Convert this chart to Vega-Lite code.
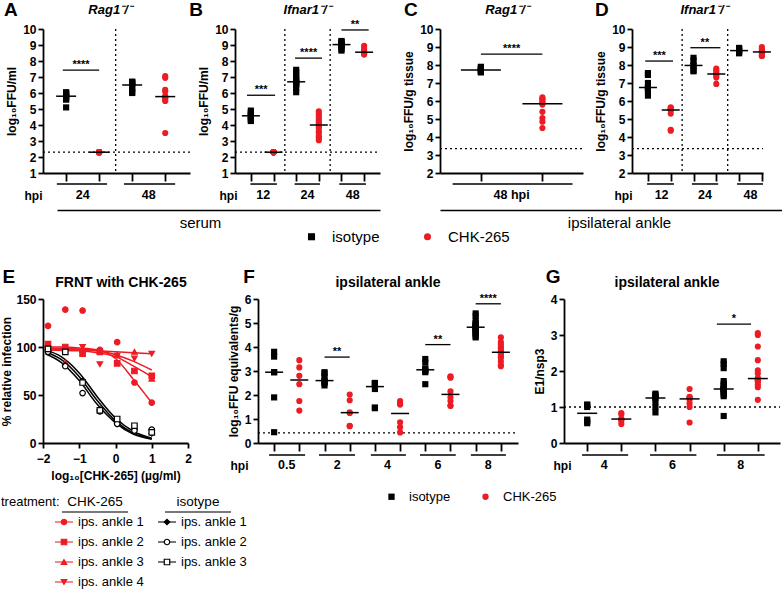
{
"$schema":"https://vega.github.io/schema/vega-lite/v6.json",
"width":782,"height":590,
"autosize":{"type":"none"},
"padding":0,
"background":"#ffffff",
"config":{"font":"Liberation Sans","view":{"stroke":null},
 "axis":{"domainColor":"#000000","domainWidth":1.8,"tickColor":"#000000","tickWidth":1.8,"tickSize":5,"labelFont":"Liberation Sans","labelFontWeight":"bold","labelFontSize":12,"labelColor":"#000000","labelPadding":2,"labelOverlap":false,"labelFlush":false,"titleFont":"Liberation Sans","titleFontWeight":"bold","titleFontSize":12,"titleColor":"#000000","grid":false},
 "legend":{"labelFont":"Liberation Sans","labelColor":"#000000"}},
"datasets":{
"pts":[
{"p":"A","pos":1,"trt":"isotype","v":6.05},{"p":"A","pos":1,"trt":"isotype","v":6.0},{"p":"A","pos":1,"trt":"isotype","v":5.95},{"p":"A","pos":1,"trt":"isotype","v":5.85},{"p":"A","pos":1,"trt":"isotype","v":5.75},{"p":"A","pos":1,"trt":"isotype","v":5.6},{"p":"A","pos":1,"trt":"isotype","v":5.6},{"p":"A","pos":1,"trt":"isotype","v":5.1},
{"p":"A","pos":2,"trt":"CHK-265","v":2.3},{"p":"A","pos":2,"trt":"CHK-265","v":2.3},{"p":"A","pos":2,"trt":"CHK-265","v":2.3},{"p":"A","pos":2,"trt":"CHK-265","v":2.3},{"p":"A","pos":2,"trt":"CHK-265","v":2.3},{"p":"A","pos":2,"trt":"CHK-265","v":2.3},{"p":"A","pos":2,"trt":"CHK-265","v":2.3},{"p":"A","pos":2,"trt":"CHK-265","v":2.3},{"p":"A","pos":2,"trt":"CHK-265","v":2.3},{"p":"A","pos":2,"trt":"CHK-265","v":2.3},
{"p":"A","pos":3,"trt":"isotype","v":6.7},{"p":"A","pos":3,"trt":"isotype","v":6.7},{"p":"A","pos":3,"trt":"isotype","v":6.65},{"p":"A","pos":3,"trt":"isotype","v":6.6},{"p":"A","pos":3,"trt":"isotype","v":6.4},{"p":"A","pos":3,"trt":"isotype","v":6.25},{"p":"A","pos":3,"trt":"isotype","v":6.05},{"p":"A","pos":3,"trt":"isotype","v":6.0},
{"p":"A","pos":4,"trt":"CHK-265","v":7.05},{"p":"A","pos":4,"trt":"CHK-265","v":6.95},{"p":"A","pos":4,"trt":"CHK-265","v":6.2},{"p":"A","pos":4,"trt":"CHK-265","v":6.1},{"p":"A","pos":4,"trt":"CHK-265","v":5.8},{"p":"A","pos":4,"trt":"CHK-265","v":5.75},{"p":"A","pos":4,"trt":"CHK-265","v":5.7},{"p":"A","pos":4,"trt":"CHK-265","v":5.6},{"p":"A","pos":4,"trt":"CHK-265","v":5.5},{"p":"A","pos":4,"trt":"CHK-265","v":3.5},
{"p":"B","pos":1,"trt":"isotype","v":4.9},{"p":"B","pos":1,"trt":"isotype","v":4.8},{"p":"B","pos":1,"trt":"isotype","v":4.7},{"p":"B","pos":1,"trt":"isotype","v":4.6},{"p":"B","pos":1,"trt":"isotype","v":4.55},{"p":"B","pos":1,"trt":"isotype","v":4.4},{"p":"B","pos":1,"trt":"isotype","v":4.3},{"p":"B","pos":1,"trt":"isotype","v":4.25},
{"p":"B","pos":2,"trt":"CHK-265","v":2.3},{"p":"B","pos":2,"trt":"CHK-265","v":2.3},{"p":"B","pos":2,"trt":"CHK-265","v":2.3},{"p":"B","pos":2,"trt":"CHK-265","v":2.3},{"p":"B","pos":2,"trt":"CHK-265","v":2.3},{"p":"B","pos":2,"trt":"CHK-265","v":2.3},{"p":"B","pos":2,"trt":"CHK-265","v":2.3},{"p":"B","pos":2,"trt":"CHK-265","v":2.3},{"p":"B","pos":2,"trt":"CHK-265","v":2.3},{"p":"B","pos":2,"trt":"CHK-265","v":2.3},
{"p":"B","pos":3,"trt":"isotype","v":7.45},{"p":"B","pos":3,"trt":"isotype","v":7.3},{"p":"B","pos":3,"trt":"isotype","v":7.1},{"p":"B","pos":3,"trt":"isotype","v":6.95},{"p":"B","pos":3,"trt":"isotype","v":6.8},{"p":"B","pos":3,"trt":"isotype","v":6.7},{"p":"B","pos":3,"trt":"isotype","v":6.65},{"p":"B","pos":3,"trt":"isotype","v":6.6},{"p":"B","pos":3,"trt":"isotype","v":6.5},{"p":"B","pos":3,"trt":"isotype","v":6.3},{"p":"B","pos":3,"trt":"isotype","v":6.05},
{"p":"B","pos":4,"trt":"CHK-265","v":4.85},{"p":"B","pos":4,"trt":"CHK-265","v":4.7},{"p":"B","pos":4,"trt":"CHK-265","v":4.6},{"p":"B","pos":4,"trt":"CHK-265","v":4.45},{"p":"B","pos":4,"trt":"CHK-265","v":4.3},{"p":"B","pos":4,"trt":"CHK-265","v":4.2},{"p":"B","pos":4,"trt":"CHK-265","v":4.1},{"p":"B","pos":4,"trt":"CHK-265","v":4.0},{"p":"B","pos":4,"trt":"CHK-265","v":3.9},{"p":"B","pos":4,"trt":"CHK-265","v":3.8},{"p":"B","pos":4,"trt":"CHK-265","v":3.6},{"p":"B","pos":4,"trt":"CHK-265","v":3.5},{"p":"B","pos":4,"trt":"CHK-265","v":3.3},{"p":"B","pos":4,"trt":"CHK-265","v":3.2},{"p":"B","pos":4,"trt":"CHK-265","v":3.05},
{"p":"B","pos":5,"trt":"isotype","v":9.25},{"p":"B","pos":5,"trt":"isotype","v":9.2},{"p":"B","pos":5,"trt":"isotype","v":9.15},{"p":"B","pos":5,"trt":"isotype","v":9.05},{"p":"B","pos":5,"trt":"isotype","v":9.0},{"p":"B","pos":5,"trt":"isotype","v":8.9},{"p":"B","pos":5,"trt":"isotype","v":8.75},{"p":"B","pos":5,"trt":"isotype","v":8.65},
{"p":"B","pos":6,"trt":"CHK-265","v":8.95},{"p":"B","pos":6,"trt":"CHK-265","v":8.8},{"p":"B","pos":6,"trt":"CHK-265","v":8.65},{"p":"B","pos":6,"trt":"CHK-265","v":8.55},{"p":"B","pos":6,"trt":"CHK-265","v":8.5},{"p":"B","pos":6,"trt":"CHK-265","v":8.45},{"p":"B","pos":6,"trt":"CHK-265","v":8.4},
{"p":"C","pos":1,"trt":"isotype","v":7.9},{"p":"C","pos":1,"trt":"isotype","v":7.85},{"p":"C","pos":1,"trt":"isotype","v":7.8},{"p":"C","pos":1,"trt":"isotype","v":7.75},{"p":"C","pos":1,"trt":"isotype","v":7.7},{"p":"C","pos":1,"trt":"isotype","v":7.65},{"p":"C","pos":1,"trt":"isotype","v":7.6},{"p":"C","pos":1,"trt":"isotype","v":7.6},
{"p":"C","pos":2,"trt":"CHK-265","v":6.2},{"p":"C","pos":2,"trt":"CHK-265","v":6.1},{"p":"C","pos":2,"trt":"CHK-265","v":6.1},{"p":"C","pos":2,"trt":"CHK-265","v":5.95},{"p":"C","pos":2,"trt":"CHK-265","v":5.9},{"p":"C","pos":2,"trt":"CHK-265","v":5.8},{"p":"C","pos":2,"trt":"CHK-265","v":5.4},{"p":"C","pos":2,"trt":"CHK-265","v":5.05},{"p":"C","pos":2,"trt":"CHK-265","v":4.85},{"p":"C","pos":2,"trt":"CHK-265","v":4.5},
{"p":"D","pos":1,"trt":"isotype","v":7.55},{"p":"D","pos":1,"trt":"isotype","v":7.45},{"p":"D","pos":1,"trt":"isotype","v":7.0},{"p":"D","pos":1,"trt":"isotype","v":6.75},{"p":"D","pos":1,"trt":"isotype","v":6.7},{"p":"D","pos":1,"trt":"isotype","v":6.6},{"p":"D","pos":1,"trt":"isotype","v":6.3},
{"p":"D","pos":2,"trt":"CHK-265","v":5.65},{"p":"D","pos":2,"trt":"CHK-265","v":5.6},{"p":"D","pos":2,"trt":"CHK-265","v":5.55},{"p":"D","pos":2,"trt":"CHK-265","v":5.5},{"p":"D","pos":2,"trt":"CHK-265","v":5.5},{"p":"D","pos":2,"trt":"CHK-265","v":5.3},{"p":"D","pos":2,"trt":"CHK-265","v":4.4},{"p":"D","pos":2,"trt":"CHK-265","v":4.35},
{"p":"D","pos":3,"trt":"isotype","v":8.4},{"p":"D","pos":3,"trt":"isotype","v":8.25},{"p":"D","pos":3,"trt":"isotype","v":8.0},{"p":"D","pos":3,"trt":"isotype","v":7.95},{"p":"D","pos":3,"trt":"isotype","v":7.7},{"p":"D","pos":3,"trt":"isotype","v":7.65},
{"p":"D","pos":4,"trt":"CHK-265","v":7.8},{"p":"D","pos":4,"trt":"CHK-265","v":7.7},{"p":"D","pos":4,"trt":"CHK-265","v":7.6},{"p":"D","pos":4,"trt":"CHK-265","v":7.5},{"p":"D","pos":4,"trt":"CHK-265","v":7.4},{"p":"D","pos":4,"trt":"CHK-265","v":7.3},{"p":"D","pos":4,"trt":"CHK-265","v":6.95},
{"p":"D","pos":5,"trt":"isotype","v":8.95},{"p":"D","pos":5,"trt":"isotype","v":8.9},{"p":"D","pos":5,"trt":"isotype","v":8.85},{"p":"D","pos":5,"trt":"isotype","v":8.8},{"p":"D","pos":5,"trt":"isotype","v":8.75},{"p":"D","pos":5,"trt":"isotype","v":8.7},{"p":"D","pos":5,"trt":"isotype","v":8.65},
{"p":"D","pos":6,"trt":"CHK-265","v":9.0},{"p":"D","pos":6,"trt":"CHK-265","v":8.9},{"p":"D","pos":6,"trt":"CHK-265","v":8.8},{"p":"D","pos":6,"trt":"CHK-265","v":8.75},{"p":"D","pos":6,"trt":"CHK-265","v":8.7},{"p":"D","pos":6,"trt":"CHK-265","v":8.6},{"p":"D","pos":6,"trt":"CHK-265","v":8.5},{"p":"D","pos":6,"trt":"CHK-265","v":8.5},
{"p":"F","pos":1,"trt":"isotype","v":3.8},{"p":"F","pos":1,"trt":"isotype","v":3.6},{"p":"F","pos":1,"trt":"isotype","v":2.95},{"p":"F","pos":1,"trt":"isotype","v":2.95},{"p":"F","pos":1,"trt":"isotype","v":1.9},{"p":"F","pos":1,"trt":"isotype","v":0.45},
{"p":"F","pos":2,"trt":"CHK-265","v":3.45},{"p":"F","pos":2,"trt":"CHK-265","v":3.15},{"p":"F","pos":2,"trt":"CHK-265","v":2.8},{"p":"F","pos":2,"trt":"CHK-265","v":2.45},{"p":"F","pos":2,"trt":"CHK-265","v":1.75},{"p":"F","pos":2,"trt":"CHK-265","v":1.35},
{"p":"F","pos":3,"trt":"isotype","v":2.95},{"p":"F","pos":3,"trt":"isotype","v":2.9},{"p":"F","pos":3,"trt":"isotype","v":2.75},{"p":"F","pos":3,"trt":"isotype","v":2.6},{"p":"F","pos":3,"trt":"isotype","v":2.55},{"p":"F","pos":3,"trt":"isotype","v":2.5},{"p":"F","pos":3,"trt":"isotype","v":2.4},
{"p":"F","pos":4,"trt":"CHK-265","v":2.02},{"p":"F","pos":4,"trt":"CHK-265","v":1.78},{"p":"F","pos":4,"trt":"CHK-265","v":1.28},{"p":"F","pos":4,"trt":"CHK-265","v":1.25},{"p":"F","pos":4,"trt":"CHK-265","v":0.72},{"p":"F","pos":4,"trt":"CHK-265","v":0.7},
{"p":"F","pos":5,"trt":"isotype","v":2.5},{"p":"F","pos":5,"trt":"isotype","v":2.5},{"p":"F","pos":5,"trt":"isotype","v":2.45},{"p":"F","pos":5,"trt":"isotype","v":2.25},{"p":"F","pos":5,"trt":"isotype","v":1.48},{"p":"F","pos":5,"trt":"isotype","v":1.45},
{"p":"F","pos":6,"trt":"CHK-265","v":1.75},{"p":"F","pos":6,"trt":"CHK-265","v":1.65},{"p":"F","pos":6,"trt":"CHK-265","v":1.6},{"p":"F","pos":6,"trt":"CHK-265","v":0.86},{"p":"F","pos":6,"trt":"CHK-265","v":0.66},{"p":"F","pos":6,"trt":"CHK-265","v":0.44},
{"p":"F","pos":7,"trt":"isotype","v":3.5},{"p":"F","pos":7,"trt":"isotype","v":3.35},{"p":"F","pos":7,"trt":"isotype","v":3.1},{"p":"F","pos":7,"trt":"isotype","v":3.05},{"p":"F","pos":7,"trt":"isotype","v":3.0},{"p":"F","pos":7,"trt":"isotype","v":2.95},{"p":"F","pos":7,"trt":"isotype","v":2.45},
{"p":"F","pos":8,"trt":"CHK-265","v":2.78},{"p":"F","pos":8,"trt":"CHK-265","v":2.75},{"p":"F","pos":8,"trt":"CHK-265","v":2.72},{"p":"F","pos":8,"trt":"CHK-265","v":2.15},{"p":"F","pos":8,"trt":"CHK-265","v":1.9},{"p":"F","pos":8,"trt":"CHK-265","v":1.75},{"p":"F","pos":8,"trt":"CHK-265","v":1.55},{"p":"F","pos":8,"trt":"CHK-265","v":1.55},
{"p":"F","pos":9,"trt":"isotype","v":5.4},{"p":"F","pos":9,"trt":"isotype","v":5.3},{"p":"F","pos":9,"trt":"isotype","v":5.1},{"p":"F","pos":9,"trt":"isotype","v":5.0},{"p":"F","pos":9,"trt":"isotype","v":4.95},{"p":"F","pos":9,"trt":"isotype","v":4.9},{"p":"F","pos":9,"trt":"isotype","v":4.85},{"p":"F","pos":9,"trt":"isotype","v":4.85},{"p":"F","pos":9,"trt":"isotype","v":4.8},{"p":"F","pos":9,"trt":"isotype","v":4.75},{"p":"F","pos":9,"trt":"isotype","v":4.7},{"p":"F","pos":9,"trt":"isotype","v":4.65},{"p":"F","pos":9,"trt":"isotype","v":4.6},{"p":"F","pos":9,"trt":"isotype","v":4.55},{"p":"F","pos":9,"trt":"isotype","v":4.45},{"p":"F","pos":9,"trt":"isotype","v":4.4},
{"p":"F","pos":10,"trt":"CHK-265","v":4.4},{"p":"F","pos":10,"trt":"CHK-265","v":4.2},{"p":"F","pos":10,"trt":"CHK-265","v":4.1},{"p":"F","pos":10,"trt":"CHK-265","v":4.0},{"p":"F","pos":10,"trt":"CHK-265","v":3.95},{"p":"F","pos":10,"trt":"CHK-265","v":3.85},{"p":"F","pos":10,"trt":"CHK-265","v":3.8},{"p":"F","pos":10,"trt":"CHK-265","v":3.78},{"p":"F","pos":10,"trt":"CHK-265","v":3.75},{"p":"F","pos":10,"trt":"CHK-265","v":3.7},{"p":"F","pos":10,"trt":"CHK-265","v":3.6},{"p":"F","pos":10,"trt":"CHK-265","v":3.55},{"p":"F","pos":10,"trt":"CHK-265","v":3.4},{"p":"F","pos":10,"trt":"CHK-265","v":3.25},{"p":"F","pos":10,"trt":"CHK-265","v":3.2},
{"p":"G","pos":1,"trt":"isotype","v":1.07},{"p":"G","pos":1,"trt":"isotype","v":1.05},{"p":"G","pos":1,"trt":"isotype","v":1.0},{"p":"G","pos":1,"trt":"isotype","v":0.65},{"p":"G","pos":1,"trt":"isotype","v":0.6},{"p":"G","pos":1,"trt":"isotype","v":0.55},
{"p":"G","pos":2,"trt":"CHK-265","v":0.83},{"p":"G","pos":2,"trt":"CHK-265","v":0.8},{"p":"G","pos":2,"trt":"CHK-265","v":0.68},{"p":"G","pos":2,"trt":"CHK-265","v":0.65},{"p":"G","pos":2,"trt":"CHK-265","v":0.62},{"p":"G","pos":2,"trt":"CHK-265","v":0.53},
{"p":"G","pos":3,"trt":"isotype","v":1.37},{"p":"G","pos":3,"trt":"isotype","v":1.33},{"p":"G","pos":3,"trt":"isotype","v":1.3},{"p":"G","pos":3,"trt":"isotype","v":1.25},{"p":"G","pos":3,"trt":"isotype","v":1.15},{"p":"G","pos":3,"trt":"isotype","v":1.0},{"p":"G","pos":3,"trt":"isotype","v":0.85},
{"p":"G","pos":4,"trt":"CHK-265","v":1.5},{"p":"G","pos":4,"trt":"CHK-265","v":1.28},{"p":"G","pos":4,"trt":"CHK-265","v":1.27},{"p":"G","pos":4,"trt":"CHK-265","v":1.25},{"p":"G","pos":4,"trt":"CHK-265","v":1.2},{"p":"G","pos":4,"trt":"CHK-265","v":1.1},{"p":"G","pos":4,"trt":"CHK-265","v":1.0},{"p":"G","pos":4,"trt":"CHK-265","v":0.57},
{"p":"G","pos":5,"trt":"isotype","v":2.27},{"p":"G","pos":5,"trt":"isotype","v":2.2},{"p":"G","pos":5,"trt":"isotype","v":2.08},{"p":"G","pos":5,"trt":"isotype","v":1.72},{"p":"G","pos":5,"trt":"isotype","v":1.65},{"p":"G","pos":5,"trt":"isotype","v":1.6},{"p":"G","pos":5,"trt":"isotype","v":1.55},{"p":"G","pos":5,"trt":"isotype","v":1.5},{"p":"G","pos":5,"trt":"isotype","v":1.5},{"p":"G","pos":5,"trt":"isotype","v":1.48},{"p":"G","pos":5,"trt":"isotype","v":1.45},{"p":"G","pos":5,"trt":"isotype","v":1.4},{"p":"G","pos":5,"trt":"isotype","v":1.35},{"p":"G","pos":5,"trt":"isotype","v":1.3},{"p":"G","pos":5,"trt":"isotype","v":0.75},
{"p":"G","pos":6,"trt":"CHK-265","v":3.05},{"p":"G","pos":6,"trt":"CHK-265","v":3.0},{"p":"G","pos":6,"trt":"CHK-265","v":2.68},{"p":"G","pos":6,"trt":"CHK-265","v":2.3},{"p":"G","pos":6,"trt":"CHK-265","v":2.02},{"p":"G","pos":6,"trt":"CHK-265","v":1.93},{"p":"G","pos":6,"trt":"CHK-265","v":1.8},{"p":"G","pos":6,"trt":"CHK-265","v":1.78},{"p":"G","pos":6,"trt":"CHK-265","v":1.75},{"p":"G","pos":6,"trt":"CHK-265","v":1.72},{"p":"G","pos":6,"trt":"CHK-265","v":1.7},{"p":"G","pos":6,"trt":"CHK-265","v":1.62},{"p":"G","pos":6,"trt":"CHK-265","v":1.55},{"p":"G","pos":6,"trt":"CHK-265","v":1.2}
],
"brk":[
{"p":"A","lo":0.9,"hi":2.0,"mid":1.45,"y":7.43,"s":"****"},
{"p":"B","lo":0.83,"hi":2.07,"mid":1.45,"y":5.86,"s":"***"},
{"p":"B","lo":2.95,"hi":4.14,"mid":3.55,"y":8.18,"s":"****"},
{"p":"B","lo":5.0,"hi":6.2,"mid":5.6,"y":9.94,"s":"**"},
{"p":"C","lo":1.0,"hi":2.0,"mid":1.5,"y":8.6,"s":"****"},
{"p":"D","lo":0.88,"hi":2.1,"mid":1.5,"y":8.22,"s":"***"},
{"p":"D","lo":2.86,"hi":4.18,"mid":3.5,"y":8.96,"s":"**"},
{"p":"F","lo":3.0,"hi":4.0,"mid":3.5,"y":3.58,"s":"**"},
{"p":"F","lo":7.0,"hi":8.0,"mid":7.5,"y":4.1,"s":"**"},
{"p":"F","lo":9.0,"hi":10.0,"mid":9.5,"y":5.8,"s":"****"},
{"p":"G","lo":4.8,"hi":5.8,"mid":5.3,"y":3.3,"s":"*"}
],
"grp":[
{"p":"A","lo":0.72,"hi":2.24,"mid":1.5,"t":"24"},{"p":"A","lo":2.75,"hi":4.3,"mid":3.5,"t":"48"},
{"p":"B","lo":0.98,"hi":2.15,"mid":1.55,"t":"12"},{"p":"B","lo":2.93,"hi":4.05,"mid":3.5,"t":"24"},{"p":"B","lo":4.9,"hi":6.08,"mid":5.5,"t":"48"},
{"p":"C","lo":0.54,"hi":2.49,"mid":1.5,"t":"48 hpi"},
{"p":"D","lo":0.96,"hi":2.14,"mid":1.6,"t":"12"},{"p":"D","lo":2.93,"hi":4.08,"mid":3.5,"t":"24"},{"p":"D","lo":4.91,"hi":6.05,"mid":5.5,"t":"48"},
{"p":"F","lo":0.8,"hi":2.23,"mid":1.5,"t":"0.5"},{"p":"F","lo":2.78,"hi":4.21,"mid":3.5,"t":"2"},{"p":"F","lo":4.84,"hi":6.23,"mid":5.5,"t":"4"},{"p":"F","lo":6.79,"hi":8.21,"mid":7.5,"t":"6"},{"p":"F","lo":8.81,"hi":10.2,"mid":9.5,"t":"8"},
{"p":"G","lo":0.85,"hi":2.2,"mid":1.5,"t":"4"},{"p":"G","lo":2.84,"hi":4.2,"mid":3.5,"t":"6"},{"p":"G","lo":4.8,"hi":6.2,"mid":5.5,"t":"8"}
],
"curves":[
{"sample":"c1","x":-1.93,"y":100},{"sample":"c1","x":-1.5,"y":100},{"sample":"c1","x":-1,"y":99},{"sample":"c1","x":-0.5,"y":97},{"sample":"c1","x":0,"y":88},{"sample":"c1","x":0.5,"y":66},{"sample":"c1","x":0.75,"y":54},{"sample":"c1","x":1,"y":42},
{"sample":"c2","x":-1.93,"y":97},{"sample":"c2","x":-1,"y":96},{"sample":"c2","x":-0.5,"y":94},{"sample":"c2","x":0,"y":90},{"sample":"c2","x":0.5,"y":80},{"sample":"c2","x":1,"y":69},
{"sample":"c3","x":-1.93,"y":99},{"sample":"c3","x":-1,"y":98},{"sample":"c3","x":-0.5,"y":96},{"sample":"c3","x":0,"y":92},{"sample":"c3","x":0.5,"y":85},{"sample":"c3","x":1,"y":76},
{"sample":"c4","x":-1.93,"y":98},{"sample":"c4","x":-1,"y":97},{"sample":"c4","x":-0.5,"y":96},{"sample":"c4","x":0,"y":95},{"sample":"c4","x":0.5,"y":94},{"sample":"c4","x":1,"y":93},
{"sample":"i1","x":-1.93,"y":93},{"sample":"i1","x":-1.5,"y":84},{"sample":"i1","x":-1,"y":65},{"sample":"i1","x":-0.5,"y":40},{"sample":"i1","x":0,"y":21},{"sample":"i1","x":0.5,"y":9},{"sample":"i1","x":1,"y":4},
{"sample":"i2","x":-1.93,"y":95},{"sample":"i2","x":-1.5,"y":87},{"sample":"i2","x":-1,"y":69},{"sample":"i2","x":-0.5,"y":44},{"sample":"i2","x":0,"y":23},{"sample":"i2","x":0.5,"y":10},{"sample":"i2","x":1,"y":4.5},
{"sample":"i3","x":-1.93,"y":97},{"sample":"i3","x":-1.5,"y":90},{"sample":"i3","x":-1,"y":73},{"sample":"i3","x":-0.5,"y":48},{"sample":"i3","x":0,"y":26},{"sample":"i3","x":0.5,"y":12},{"sample":"i3","x":1,"y":5}
],
"frnt":[
{"sample":"c1","x":-1.862,"y":122},{"sample":"c1","x":-1.385,"y":139},{"sample":"c1","x":-0.908,"y":138},{"sample":"c1","x":-0.431,"y":97},{"sample":"c1","x":0.046,"y":105},{"sample":"c1","x":0.523,"y":63},{"sample":"c1","x":1.0,"y":42},
{"sample":"c2","x":-1.862,"y":103},{"sample":"c2","x":-1.385,"y":100},{"sample":"c2","x":-0.908,"y":93},{"sample":"c2","x":-0.431,"y":95},{"sample":"c2","x":0.046,"y":83},{"sample":"c2","x":0.523,"y":75},{"sample":"c2","x":1.0,"y":70},
{"sample":"c3","x":-1.862,"y":100},{"sample":"c3","x":-1.385,"y":84},{"sample":"c3","x":-0.908,"y":97},{"sample":"c3","x":-0.431,"y":96},{"sample":"c3","x":0.046,"y":92},{"sample":"c3","x":0.523,"y":95},{"sample":"c3","x":1.0,"y":67},
{"sample":"c4","x":-1.862,"y":96},{"sample":"c4","x":-1.385,"y":96},{"sample":"c4","x":-0.908,"y":100},{"sample":"c4","x":-0.431,"y":82},{"sample":"c4","x":0.046,"y":91},{"sample":"c4","x":0.523,"y":88},{"sample":"c4","x":1.0,"y":93},
{"sample":"i1","x":-1.862,"y":97},{"sample":"i1","x":-1.385,"y":81},{"sample":"i1","x":-0.908,"y":65},{"sample":"i1","x":-0.431,"y":35},{"sample":"i1","x":0.046,"y":20},{"sample":"i1","x":0.523,"y":14},{"sample":"i1","x":1.0,"y":10},
{"sample":"i2","x":-1.862,"y":95},{"sample":"i2","x":-1.385,"y":80},{"sample":"i2","x":-0.908,"y":52},{"sample":"i2","x":-0.431,"y":33},{"sample":"i2","x":0.046,"y":20},{"sample":"i2","x":0.523,"y":13},{"sample":"i2","x":1.0,"y":14},
{"sample":"i3","x":-1.862,"y":98},{"sample":"i3","x":-1.385,"y":95},{"sample":"i3","x":-0.908,"y":63},{"sample":"i3","x":-0.431,"y":34},{"sample":"i3","x":0.046,"y":25},{"sample":"i3","x":0.523,"y":18},{"sample":"i3","x":1.0,"y":11}
],
"eleg":[
{"col":"CHK-265","r":0,"label":"CHK-265","kind":"h"},
{"col":"isotype","r":0,"label":"isotype","kind":"h"},
{"col":"CHK-265","r":0,"label":"treatment:","kind":"t"},
{"col":"CHK-265","r":1,"sample":"c1","label":"ips. ankle 1","kind":"e"},
{"col":"CHK-265","r":2,"sample":"c2","label":"ips. ankle 2","kind":"e"},
{"col":"CHK-265","r":3,"sample":"c3","label":"ips. ankle 3","kind":"e"},
{"col":"CHK-265","r":4,"sample":"c4","label":"ips. ankle 4","kind":"e"},
{"col":"isotype","r":1,"sample":"i1","label":"ips. ankle 1","kind":"e"},
{"col":"isotype","r":2,"sample":"i2","label":"ips. ankle 2","kind":"e"},
{"col":"isotype","r":3,"sample":"i3","label":"ips. ankle 3","kind":"e"}
]
},
"resolve":{"scale":{"x":"independent","y":"independent","color":"independent","shape":"independent","fill":"independent","stroke":"independent"},"axis":{"x":"independent","y":"independent"},"legend":{"color":"independent","shape":"independent"}},
"layer":[
 {"layer":[
  {"data":{"values":[{}]},"mark":{"type":"rule","strokeDash":[2,3],"strokeWidth":1.3,"color":"#000000"},"encoding":{"x":{"datum":0.3,"type":"quantitative"},"x2":{"datum":4.75},"y":{"datum":2.3,"type":"quantitative"}}},
  {"data":{"values":[{"s":2.5}]},"mark":{"type":"rule","strokeDash":[2,3],"strokeWidth":1.3,"color":"#000000"},"encoding":{"x":{"field":"s","type":"quantitative"},"y":{"datum":10,"type":"quantitative"},"y2":{"datum":1}}},
  {"data":{"name":"pts"},"transform":[{"filter":"datum.p=='A'"}],"mark":{"type":"point","filled":true,"size":38,"opacity":1},"encoding":{
    "x":{"field":"pos","type":"quantitative","scale":{"domain":[0.3,4.75],"range":[43,190],"nice":false,"zero":false},"axis":{"orient":"bottom","offset":-417,"values":[1,2,3,4],"labels":false,"tickSize":8,"title":"hpi","titleX":42,"titleY":22,"titleAlign":"right","titleBaseline":"middle","titleAngle":0}},
    "y":{"field":"v","type":"quantitative","scale":{"domain":[1,10],"range":[173,29],"nice":false,"zero":false},"axis":{"orient":"left","offset":-43,"values":[1,2,3,4,5,6,7,8,9,10],"format":"d","title":"log₁₀FFU/ml","titlePadding":4}},
    "color":{"field":"trt","type":"nominal","scale":{"domain":["isotype","CHK-265"],"range":["#000000","#ed1c24"]},"legend":{"orient":"none","legendX":304,"legendY":229,"direction":"horizontal","title":null,"symbolSize":50,"labelFontSize":15,"labelOffset":13,"columnPadding":40,"padding":0}},
    "shape":{"field":"trt","type":"nominal","scale":{"domain":["isotype","CHK-265"],"range":["square","circle"]},"legend":{"orient":"none","legendX":304,"legendY":229,"direction":"horizontal","title":null,"symbolSize":50,"labelFontSize":15,"labelOffset":13,"columnPadding":40,"padding":0}}}},
  {"data":{"name":"pts"},"transform":[{"filter":"datum.p=='A'"}],"mark":{"type":"tick","orient":"horizontal","size":20,"thickness":1.5,"color":"#000000"},"encoding":{"x":{"field":"pos","type":"quantitative"},"y":{"aggregate":"median","field":"v","type":"quantitative"}}},
  {"data":{"name":"brk"},"transform":[{"filter":"datum.p=='A'"}],"mark":{"type":"rule","strokeWidth":1.3,"color":"#000000"},"encoding":{"x":{"field":"lo","type":"quantitative"},"x2":{"field":"hi"},"y":{"field":"y","type":"quantitative"}}},
  {"data":{"name":"brk"},"transform":[{"filter":"datum.p=='A'"}],"mark":{"type":"text","fontSize":11,"fontWeight":"bold","baseline":"alphabetic","dy":-2,"color":"#000000"},"encoding":{"x":{"field":"mid","type":"quantitative"},"y":{"field":"y","type":"quantitative"},"text":{"field":"s"}}},
  {"data":{"name":"grp"},"transform":[{"filter":"datum.p=='A'"}],"mark":{"type":"rule","strokeWidth":1.5,"color":"#000000"},"encoding":{"x":{"field":"lo","type":"quantitative"},"x2":{"field":"hi"},"y":{"datum":0.31,"type":"quantitative"}}},
  {"data":{"name":"grp"},"transform":[{"filter":"datum.p=='A'"}],"mark":{"type":"text","fontSize":12.5,"fontWeight":"bold","baseline":"middle","color":"#000000"},"encoding":{"x":{"field":"mid","type":"quantitative"},"y":{"datum":-0.375,"type":"quantitative"},"text":{"field":"t"}}},
  {"data":{"values":[{}]},"mark":{"type":"text","fontSize":19,"fontWeight":"bold","baseline":"middle","color":"#000000"},"encoding":{"x":{"datum":-0.67,"type":"quantitative"},"y":{"datum":11.19,"type":"quantitative"},"text":{"value":"A"}}},
  {"data":{"values":[{}]},"mark":{"type":"text","fontSize":13,"fontWeight":"bold","fontStyle":"italic","baseline":"middle","color":"#000000"},"encoding":{"x":{"datum":2.33,"type":"quantitative"},"y":{"datum":11.19,"type":"quantitative"},"text":{"value":"Rag1⁻/⁻"}}}
 ]},
 {"layer":[
  {"data":{"values":[{}]},"mark":{"type":"rule","strokeDash":[2,3],"strokeWidth":1.3,"color":"#000000"},"encoding":{"x":{"datum":0.3,"type":"quantitative"},"x2":{"datum":6.7},"y":{"datum":2.3,"type":"quantitative"}}},
  {"data":{"values":[{"s":2.5},{"s":4.5}]},"mark":{"type":"rule","strokeDash":[2,3],"strokeWidth":1.3,"color":"#000000"},"encoding":{"x":{"field":"s","type":"quantitative"},"y":{"datum":10,"type":"quantitative"},"y2":{"datum":1}}},
  {"data":{"name":"pts"},"transform":[{"filter":"datum.p=='B'"}],"mark":{"type":"point","filled":true,"size":38,"opacity":1},"encoding":{
    "x":{"field":"pos","type":"quantitative","scale":{"domain":[0.3,6.7],"range":[235,380],"nice":false,"zero":false},"axis":{"orient":"bottom","offset":-417,"values":[1,2,3,4,5,6],"labels":false,"tickSize":8,"title":"hpi","titleX":237,"titleY":22,"titleAlign":"right","titleBaseline":"middle","titleAngle":0}},
    "y":{"field":"v","type":"quantitative","scale":{"domain":[1,10],"range":[173,29],"nice":false,"zero":false},"axis":{"orient":"left","offset":-235,"values":[1,2,3,4,5,6,7,8,9,10],"format":"d","title":"log₁₀FFU/ml","titlePadding":4}},
    "color":{"field":"trt","type":"nominal","scale":{"domain":["isotype","CHK-265"],"range":["#000000","#ed1c24"]},"legend":null},
    "shape":{"field":"trt","type":"nominal","scale":{"domain":["isotype","CHK-265"],"range":["square","circle"]},"legend":null}}},
  {"data":{"name":"pts"},"transform":[{"filter":"datum.p=='B'"}],"mark":{"type":"tick","orient":"horizontal","size":18,"thickness":1.5,"color":"#000000"},"encoding":{"x":{"field":"pos","type":"quantitative"},"y":{"aggregate":"median","field":"v","type":"quantitative"}}},
  {"data":{"name":"brk"},"transform":[{"filter":"datum.p=='B'"}],"mark":{"type":"rule","strokeWidth":1.3,"color":"#000000"},"encoding":{"x":{"field":"lo","type":"quantitative"},"x2":{"field":"hi"},"y":{"field":"y","type":"quantitative"}}},
  {"data":{"name":"brk"},"transform":[{"filter":"datum.p=='B'"}],"mark":{"type":"text","fontSize":11,"fontWeight":"bold","baseline":"alphabetic","dy":-2,"color":"#000000"},"encoding":{"x":{"field":"mid","type":"quantitative"},"y":{"field":"y","type":"quantitative"},"text":{"field":"s"}}},
  {"data":{"name":"grp"},"transform":[{"filter":"datum.p=='B'"}],"mark":{"type":"rule","strokeWidth":1.5,"color":"#000000"},"encoding":{"x":{"field":"lo","type":"quantitative"},"x2":{"field":"hi"},"y":{"datum":0.31,"type":"quantitative"}}},
  {"data":{"name":"grp"},"transform":[{"filter":"datum.p=='B'"}],"mark":{"type":"text","fontSize":12.5,"fontWeight":"bold","baseline":"middle","color":"#000000"},"encoding":{"x":{"field":"mid","type":"quantitative"},"y":{"datum":-0.375,"type":"quantitative"},"text":{"field":"t"}}},
  {"data":{"values":[{}]},"mark":{"type":"text","fontSize":19,"fontWeight":"bold","baseline":"middle","color":"#000000"},"encoding":{"x":{"datum":-1.42,"type":"quantitative"},"y":{"datum":11.19,"type":"quantitative"},"text":{"value":"B"}}},
  {"data":{"values":[{}]},"mark":{"type":"text","fontSize":13,"fontWeight":"bold","fontStyle":"italic","baseline":"middle","color":"#000000"},"encoding":{"x":{"datum":3.48,"type":"quantitative"},"y":{"datum":11.19,"type":"quantitative"},"text":{"value":"Ifnar1⁻/⁻"}}}
 ]},
 {"layer":[
  {"data":{"values":[{}]},"mark":{"type":"rule","strokeDash":[2,3],"strokeWidth":1.3,"color":"#000000"},"encoding":{"x":{"datum":0.335,"type":"quantitative"},"x2":{"datum":2.66},"y":{"datum":3.35,"type":"quantitative"}}},
  {"data":{"name":"pts"},"transform":[{"filter":"datum.p=='C'"}],"mark":{"type":"point","filled":true,"size":38,"opacity":1},"encoding":{
    "x":{"field":"pos","type":"quantitative","scale":{"domain":[0.335,2.66],"range":[440,583],"nice":false,"zero":false},"axis":{"orient":"bottom","offset":-417,"values":[1,2],"labels":false,"tickSize":8,"title":null}},
    "y":{"field":"v","type":"quantitative","scale":{"domain":[2,10],"range":[173,29],"nice":false,"zero":false},"axis":{"orient":"left","offset":-440,"values":[2,3,4,5,6,7,8,9,10],"format":"d","title":"log₁₀FFU/g tissue","titlePadding":4}},
    "color":{"field":"trt","type":"nominal","scale":{"domain":["isotype","CHK-265"],"range":["#000000","#ed1c24"]},"legend":null},
    "shape":{"field":"trt","type":"nominal","scale":{"domain":["isotype","CHK-265"],"range":["square","circle"]},"legend":null}}},
  {"data":{"name":"pts"},"transform":[{"filter":"datum.p=='C'"}],"mark":{"type":"tick","orient":"horizontal","size":40,"thickness":1.5,"color":"#000000"},"encoding":{"x":{"field":"pos","type":"quantitative"},"y":{"aggregate":"median","field":"v","type":"quantitative"}}},
  {"data":{"name":"brk"},"transform":[{"filter":"datum.p=='C'"}],"mark":{"type":"rule","strokeWidth":1.3,"color":"#000000"},"encoding":{"x":{"field":"lo","type":"quantitative"},"x2":{"field":"hi"},"y":{"field":"y","type":"quantitative"}}},
  {"data":{"name":"brk"},"transform":[{"filter":"datum.p=='C'"}],"mark":{"type":"text","fontSize":11,"fontWeight":"bold","baseline":"alphabetic","dy":-2,"color":"#000000"},"encoding":{"x":{"field":"mid","type":"quantitative"},"y":{"field":"y","type":"quantitative"},"text":{"field":"s"}}},
  {"data":{"name":"grp"},"transform":[{"filter":"datum.p=='C'"}],"mark":{"type":"rule","strokeWidth":1.5,"color":"#000000"},"encoding":{"x":{"field":"lo","type":"quantitative"},"x2":{"field":"hi"},"y":{"datum":1.39,"type":"quantitative"}}},
  {"data":{"name":"grp"},"transform":[{"filter":"datum.p=='C'"}],"mark":{"type":"text","fontSize":12.5,"fontWeight":"bold","baseline":"middle","color":"#000000"},"encoding":{"x":{"field":"mid","type":"quantitative"},"y":{"datum":0.78,"type":"quantitative"},"text":{"field":"t"}}},
  {"data":{"values":[{}]},"mark":{"type":"text","fontSize":19,"fontWeight":"bold","baseline":"middle","color":"#000000"},"encoding":{"x":{"datum":-0.14,"type":"quantitative"},"y":{"datum":11.06,"type":"quantitative"},"text":{"value":"C"}}},
  {"data":{"values":[{}]},"mark":{"type":"text","fontSize":13,"fontWeight":"bold","fontStyle":"italic","baseline":"middle","color":"#000000"},"encoding":{"x":{"datum":1.425,"type":"quantitative"},"y":{"datum":11.06,"type":"quantitative"},"text":{"value":"Rag1⁻/⁻"}}}
 ]},
 {"layer":[
  {"data":{"values":[{}]},"mark":{"type":"rule","strokeDash":[2,3],"strokeWidth":1.3,"color":"#000000"},"encoding":{"x":{"datum":0.3,"type":"quantitative"},"x2":{"datum":6.05},"y":{"datum":3.35,"type":"quantitative"}}},
  {"data":{"values":[{"s":2.5},{"s":4.5}]},"mark":{"type":"rule","strokeDash":[2,3],"strokeWidth":1.3,"color":"#000000"},"encoding":{"x":{"field":"s","type":"quantitative"},"y":{"datum":10,"type":"quantitative"},"y2":{"datum":2}}},
  {"data":{"name":"pts"},"transform":[{"filter":"datum.p=='D'"}],"mark":{"type":"point","filled":true,"size":38,"opacity":1},"encoding":{
    "x":{"field":"pos","type":"quantitative","scale":{"domain":[0.3,6.05],"range":[632,763],"nice":false,"zero":false},"axis":{"orient":"bottom","offset":-417,"values":[1,2,3,4,5,6],"labels":false,"tickSize":8,"title":"hpi","titleX":632,"titleY":22,"titleAlign":"right","titleBaseline":"middle","titleAngle":0}},
    "y":{"field":"v","type":"quantitative","scale":{"domain":[2,10],"range":[173,29],"nice":false,"zero":false},"axis":{"orient":"left","offset":-632,"values":[2,3,4,5,6,7,8,9,10],"format":"d","title":"log₁₀FFU/g tissue","titlePadding":4}},
    "color":{"field":"trt","type":"nominal","scale":{"domain":["isotype","CHK-265"],"range":["#000000","#ed1c24"]},"legend":null},
    "shape":{"field":"trt","type":"nominal","scale":{"domain":["isotype","CHK-265"],"range":["square","circle"]},"legend":null}}},
  {"data":{"name":"pts"},"transform":[{"filter":"datum.p=='D'"}],"mark":{"type":"tick","orient":"horizontal","size":18,"thickness":1.5,"color":"#000000"},"encoding":{"x":{"field":"pos","type":"quantitative"},"y":{"aggregate":"median","field":"v","type":"quantitative"}}},
  {"data":{"name":"brk"},"transform":[{"filter":"datum.p=='D'"}],"mark":{"type":"rule","strokeWidth":1.3,"color":"#000000"},"encoding":{"x":{"field":"lo","type":"quantitative"},"x2":{"field":"hi"},"y":{"field":"y","type":"quantitative"}}},
  {"data":{"name":"brk"},"transform":[{"filter":"datum.p=='D'"}],"mark":{"type":"text","fontSize":11,"fontWeight":"bold","baseline":"alphabetic","dy":-2,"color":"#000000"},"encoding":{"x":{"field":"mid","type":"quantitative"},"y":{"field":"y","type":"quantitative"},"text":{"field":"s"}}},
  {"data":{"name":"grp"},"transform":[{"filter":"datum.p=='D'"}],"mark":{"type":"rule","strokeWidth":1.5,"color":"#000000"},"encoding":{"x":{"field":"lo","type":"quantitative"},"x2":{"field":"hi"},"y":{"datum":1.39,"type":"quantitative"}}},
  {"data":{"name":"grp"},"transform":[{"filter":"datum.p=='D'"}],"mark":{"type":"text","fontSize":12.5,"fontWeight":"bold","baseline":"middle","color":"#000000"},"encoding":{"x":{"field":"mid","type":"quantitative"},"y":{"datum":0.78,"type":"quantitative"},"text":{"field":"t"}}},
  {"data":{"values":[{}]},"mark":{"type":"text","fontSize":19,"fontWeight":"bold","baseline":"middle","color":"#000000"},"encoding":{"x":{"datum":-1.02,"type":"quantitative"},"y":{"datum":11.06,"type":"quantitative"},"text":{"value":"D"}}},
  {"data":{"values":[{}]},"mark":{"type":"text","fontSize":13,"fontWeight":"bold","fontStyle":"italic","baseline":"middle","color":"#000000"},"encoding":{"x":{"datum":3.46,"type":"quantitative"},"y":{"datum":11.06,"type":"quantitative"},"text":{"value":"Ifnar1⁻/⁻"}}}
 ]},
 {"data":{"values":[{}]},"mark":{"type":"rule","opacity":0},"encoding":{"x":{"datum":0,"type":"quantitative","scale":{"domain":[0,1],"range":[57,380]},"axis":{"orient":"bottom","offset":-380,"domain":true,"domainWidth":1.5,"ticks":false,"labels":false,"title":"serum","titleFontWeight":"normal","titleFontSize":15,"titleX":200,"titleY":12,"titleAlign":"center","titleBaseline":"middle","titleAngle":0}}}},
 {"data":{"values":[{}]},"mark":{"type":"rule","opacity":0},"encoding":{"x":{"datum":0,"type":"quantitative","scale":{"domain":[0,1],"range":[440,782]},"axis":{"orient":"bottom","offset":-380,"domain":true,"domainWidth":1.5,"ticks":false,"labels":false,"title":"ipsilateral ankle","titleFontWeight":"normal","titleFontSize":15,"titleX":619,"titleY":12,"titleAlign":"center","titleBaseline":"middle","titleAngle":0}}}},
 {"layer":[
  {"data":{"name":"curves"},"mark":{"type":"line","interpolate":"monotone","strokeWidth":1.5},"encoding":{
    "x":{"field":"x","type":"quantitative","scale":{"domain":[-2,2],"range":[43,188],"nice":false,"zero":false},"axis":{"orient":"bottom","offset":-147,"values":[-2,-1,0,1,2],"format":"d","labelPadding":5,"title":"log₁₀[CHK-265] (µg/ml)","tickSize":5,"titlePadding":6}},
    "y":{"field":"y","type":"quantitative","scale":{"domain":[0,150],"range":[443,299],"nice":false,"zero":false},"axis":{"orient":"left","offset":-43,"values":[0,50,100,150],"format":"d","title":"% relative infection","titlePadding":2}},
    "stroke":{"field":"sample","type":"nominal","scale":{"domain":["c1","c2","c3","c4","i1","i2","i3"],"range":["#ed1c24","#ed1c24","#ed1c24","#ed1c24","#000000","#000000","#000000"]},"legend":null}}},
  {"data":{"name":"frnt"},"mark":{"type":"point","size":30,"strokeWidth":1.2,"opacity":1},"encoding":{
    "x":{"field":"x","type":"quantitative"},
    "y":{"field":"y","type":"quantitative"},
    "shape":{"field":"sample","type":"nominal","scale":{"domain":["c1","c2","c3","c4","i1","i2","i3"],"range":["circle","square","triangle-up","triangle-down","diamond","circle","square"]},"legend":null},
    "fill":{"field":"sample","type":"nominal","scale":{"domain":["c1","c2","c3","c4","i1","i2","i3"],"range":["#ed1c24","#ed1c24","#ed1c24","#ed1c24","#000000","#ffffff","#ffffff"]},"legend":null},
    "stroke":{"field":"sample","type":"nominal","legend":null}}},
  {"data":{"values":[{}]},"mark":{"type":"text","fontSize":19,"fontWeight":"bold","baseline":"middle","color":"#000000"},"encoding":{"x":{"datum":-2.94,"type":"quantitative"},"y":{"datum":173,"type":"quantitative"},"text":{"value":"E"}}},
  {"data":{"values":[{}]},"mark":{"type":"text","fontSize":14,"fontWeight":"bold","baseline":"middle","color":"#000000"},"encoding":{"x":{"datum":0.15,"type":"quantitative"},"y":{"datum":166.7,"type":"quantitative"},"text":{"value":"FRNT with CHK-265"}}}
 ]},
 {"layer":[
  {"data":{"values":[{}]},"mark":{"type":"rule","strokeDash":[2,3],"strokeWidth":1.3,"color":"#000000"},"encoding":{"x":{"datum":0.36,"type":"quantitative"},"x2":{"datum":10.68},"y":{"datum":0.42,"type":"quantitative"}}},
  {"data":{"name":"pts"},"transform":[{"filter":"datum.p=='F'"}],"mark":{"type":"point","filled":true,"size":38,"opacity":1},"encoding":{
    "x":{"field":"pos","type":"quantitative","scale":{"domain":[0.36,10.68],"range":[258,518],"nice":false,"zero":false},"axis":{"orient":"bottom","offset":-147,"values":[1,2,3,4,5,6,7,8,9,10],"labels":false,"tickSize":8,"title":"hpi","titleX":248,"titleY":22,"titleAlign":"right","titleBaseline":"middle","titleAngle":0}},
    "y":{"field":"v","type":"quantitative","scale":{"domain":[0,6],"range":[443,299],"nice":false,"zero":false},"axis":{"orient":"left","offset":-258,"values":[0,1,2,3,4,5,6],"format":"d","title":"log₁₀FFU equivalents/g","titlePadding":4}},
    "color":{"field":"trt","type":"nominal","scale":{"domain":["isotype","CHK-265"],"range":["#000000","#ed1c24"]},"legend":{"orient":"none","legendX":385,"legendY":490,"direction":"horizontal","title":null,"symbolSize":40,"labelFontSize":13,"labelOffset":11,"columnPadding":28,"padding":0}},
    "shape":{"field":"trt","type":"nominal","scale":{"domain":["isotype","CHK-265"],"range":["square","circle"]},"legend":{"orient":"none","legendX":385,"legendY":490,"direction":"horizontal","title":null,"symbolSize":40,"labelFontSize":13,"labelOffset":11,"columnPadding":28,"padding":0}}}},
  {"data":{"name":"pts"},"transform":[{"filter":"datum.p=='F'"}],"mark":{"type":"tick","orient":"horizontal","size":18,"thickness":1.5,"color":"#000000"},"encoding":{"x":{"field":"pos","type":"quantitative"},"y":{"aggregate":"median","field":"v","type":"quantitative"}}},
  {"data":{"name":"brk"},"transform":[{"filter":"datum.p=='F'"}],"mark":{"type":"rule","strokeWidth":1.3,"color":"#000000"},"encoding":{"x":{"field":"lo","type":"quantitative"},"x2":{"field":"hi"},"y":{"field":"y","type":"quantitative"}}},
  {"data":{"name":"brk"},"transform":[{"filter":"datum.p=='F'"}],"mark":{"type":"text","fontSize":11,"fontWeight":"bold","baseline":"alphabetic","dy":-2,"color":"#000000"},"encoding":{"x":{"field":"mid","type":"quantitative"},"y":{"field":"y","type":"quantitative"},"text":{"field":"s"}}},
  {"data":{"name":"grp"},"transform":[{"filter":"datum.p=='F'"}],"mark":{"type":"rule","strokeWidth":1.5,"color":"#000000"},"encoding":{"x":{"field":"lo","type":"quantitative"},"x2":{"field":"hi"},"y":{"datum":-0.5,"type":"quantitative"}}},
  {"data":{"name":"grp"},"transform":[{"filter":"datum.p=='F'"}],"mark":{"type":"text","fontSize":12.5,"fontWeight":"bold","baseline":"middle","color":"#000000"},"encoding":{"x":{"field":"mid","type":"quantitative"},"y":{"datum":-0.92,"type":"quantitative"},"text":{"field":"t"}}},
  {"data":{"values":[{}]},"mark":{"type":"text","fontSize":19,"fontWeight":"bold","baseline":"middle","color":"#000000"},"encoding":{"x":{"datum":0.0,"type":"quantitative"},"y":{"datum":6.92,"type":"quantitative"},"text":{"value":"F"}}},
  {"data":{"values":[{}]},"mark":{"type":"text","fontSize":14,"fontWeight":"bold","baseline":"middle","color":"#000000"},"encoding":{"x":{"datum":5.52,"type":"quantitative"},"y":{"datum":6.67,"type":"quantitative"},"text":{"value":"ipsilateral ankle"}}}
 ]},
 {"layer":[
  {"data":{"values":[{}]},"mark":{"type":"rule","strokeDash":[2,3],"strokeWidth":1.3,"color":"#000000"},"encoding":{"x":{"datum":0.32,"type":"quantitative"},"x2":{"datum":6.65},"y":{"datum":1.0,"type":"quantitative"}}},
  {"data":{"name":"pts"},"transform":[{"filter":"datum.p=='G'"}],"mark":{"type":"point","filled":true,"size":38,"opacity":1},"encoding":{
    "x":{"field":"pos","type":"quantitative","scale":{"domain":[0.32,6.65],"range":[564,780],"nice":false,"zero":false},"axis":{"orient":"bottom","offset":-147,"values":[1,2,3,4,5,6],"labels":false,"tickSize":8,"title":"hpi","titleX":571,"titleY":22,"titleAlign":"right","titleBaseline":"middle","titleAngle":0}},
    "y":{"field":"v","type":"quantitative","scale":{"domain":[0,4],"range":[443,299],"nice":false,"zero":false},"axis":{"orient":"left","offset":-564,"values":[0,1,2,3,4],"format":"d","title":"E1/nsp3","titlePadding":4}},
    "color":{"field":"trt","type":"nominal","scale":{"domain":["isotype","CHK-265"],"range":["#000000","#ed1c24"]},"legend":null},
    "shape":{"field":"trt","type":"nominal","scale":{"domain":["isotype","CHK-265"],"range":["square","circle"]},"legend":null}}},
  {"data":{"name":"pts"},"transform":[{"filter":"datum.p=='G'"}],"mark":{"type":"tick","orient":"horizontal","size":20,"thickness":1.5,"color":"#000000"},"encoding":{"x":{"field":"pos","type":"quantitative"},"y":{"aggregate":"median","field":"v","type":"quantitative"}}},
  {"data":{"name":"brk"},"transform":[{"filter":"datum.p=='G'"}],"mark":{"type":"rule","strokeWidth":1.3,"color":"#000000"},"encoding":{"x":{"field":"lo","type":"quantitative"},"x2":{"field":"hi"},"y":{"field":"y","type":"quantitative"}}},
  {"data":{"name":"brk"},"transform":[{"filter":"datum.p=='G'"}],"mark":{"type":"text","fontSize":11,"fontWeight":"bold","baseline":"alphabetic","dy":-2,"color":"#000000"},"encoding":{"x":{"field":"mid","type":"quantitative"},"y":{"field":"y","type":"quantitative"},"text":{"field":"s"}}},
  {"data":{"name":"grp"},"transform":[{"filter":"datum.p=='G'"}],"mark":{"type":"rule","strokeWidth":1.5,"color":"#000000"},"encoding":{"x":{"field":"lo","type":"quantitative"},"x2":{"field":"hi"},"y":{"datum":-0.33,"type":"quantitative"}}},
  {"data":{"name":"grp"},"transform":[{"filter":"datum.p=='G'"}],"mark":{"type":"text","fontSize":12.5,"fontWeight":"bold","baseline":"middle","color":"#000000"},"encoding":{"x":{"field":"mid","type":"quantitative"},"y":{"datum":-0.61,"type":"quantitative"},"text":{"field":"t"}}},
  {"data":{"values":[{}]},"mark":{"type":"text","fontSize":19,"fontWeight":"bold","baseline":"middle","color":"#000000"},"encoding":{"x":{"datum":0.0,"type":"quantitative"},"y":{"datum":4.61,"type":"quantitative"},"text":{"value":"G"}}},
  {"data":{"values":[{}]},"mark":{"type":"text","fontSize":14,"fontWeight":"bold","baseline":"middle","color":"#000000"},"encoding":{"x":{"datum":3.34,"type":"quantitative"},"y":{"datum":4.44,"type":"quantitative"},"text":{"value":"ipsilateral ankle"}}}
 ]},
 {"data":{"name":"eleg"},"layer":[
  {"transform":[{"filter":"datum.kind=='e'"}],"mark":{"type":"tick","orient":"horizontal","size":18,"thickness":1.5},"encoding":{
    "x":{"field":"col","type":"nominal","scale":{"type":"point","domain":["CHK-265","isotype"],"range":[64,167],"padding":0},"axis":null},
    "y":{"field":"r","type":"ordinal","scale":{"type":"point","domain":[0,1,2,3,4],"range":[502,582],"padding":0},"axis":null},
    "color":{"field":"col","type":"nominal","scale":{"domain":["CHK-265","isotype"],"range":["#ed1c24","#000000"]},"legend":null}}},
  {"transform":[{"filter":"datum.kind=='e'"}],"mark":{"type":"point","size":30,"strokeWidth":1.2,"opacity":1},"encoding":{
    "x":{"field":"col","type":"nominal","axis":null},
    "y":{"field":"r","type":"ordinal","axis":null},
    "shape":{"field":"sample","type":"nominal","scale":{"domain":["c1","c2","c3","c4","i1","i2","i3"],"range":["circle","square","triangle-up","triangle-down","diamond","circle","square"]},"legend":null},
    "fill":{"field":"sample","type":"nominal","scale":{"domain":["c1","c2","c3","c4","i1","i2","i3"],"range":["#ed1c24","#ed1c24","#ed1c24","#ed1c24","#000000","#ffffff","#ffffff"]},"legend":null},
    "stroke":{"field":"sample","type":"nominal","scale":{"domain":["c1","c2","c3","c4","i1","i2","i3"],"range":["#ed1c24","#ed1c24","#ed1c24","#ed1c24","#000000","#000000","#000000"]},"legend":null}}},
  {"transform":[{"filter":"datum.kind=='e'"}],"mark":{"type":"text","align":"left","baseline":"middle","dx":14,"fontSize":13,"color":"#000000"},"encoding":{
    "x":{"field":"col","type":"nominal","axis":null},"y":{"field":"r","type":"ordinal","axis":null},"text":{"field":"label"}}},
  {"transform":[{"filter":"datum.kind=='h'"}],"mark":{"type":"text","align":"center","baseline":"middle","dx":31,"fontSize":13.5,"color":"#000000"},"encoding":{
    "x":{"field":"col","type":"nominal","axis":null},"y":{"field":"r","type":"ordinal","axis":null},"text":{"field":"label"}}},
  {"transform":[{"filter":"datum.kind=='h'"}],"mark":{"type":"tick","orient":"horizontal","size":66,"thickness":1.4,"xOffset":31,"yOffset":10,"color":"#000000"},"encoding":{
    "x":{"field":"col","type":"nominal","axis":null},"y":{"field":"r","type":"ordinal","axis":null}}},
  {"transform":[{"filter":"datum.kind=='t'"}],"mark":{"type":"text","align":"left","baseline":"middle","dx":-63,"fontSize":13,"color":"#000000"},"encoding":{
    "x":{"field":"col","type":"nominal","axis":null},"y":{"field":"r","type":"ordinal","axis":null},"text":{"field":"label"}}}
 ]}
]
}
